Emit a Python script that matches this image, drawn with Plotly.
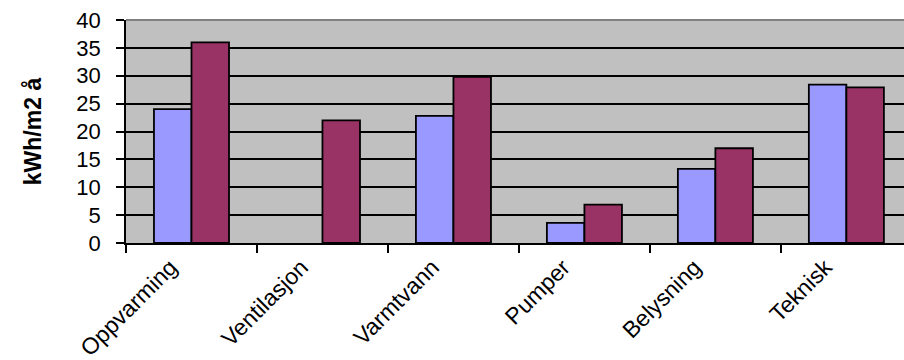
import plotly.graph_objects as go

categories = ["Oppvarming", "Ventilasjon", "Varmtvann", "Pumper", "Belysning", "Teknisk"]
series_a = [24.0, None, 22.8, 3.6, 13.3, 28.4]
series_b = [36.0, 22.0, 29.8, 6.9, 17.0, 27.9]
y_ticks = [0, 5, 10, 15, 20, 25, 30, 35, 40]

font_family = "Liberation Sans, Arial, sans-serif"

fig = go.Figure()
fig.add_trace(go.Bar(
    x=categories, y=series_a, name="A",
    marker=dict(color="#9999FF", line=dict(color="#000000", width=1.8)),
))
fig.add_trace(go.Bar(
    x=categories, y=series_b, name="B",
    marker=dict(color="#993366", line=dict(color="#000000", width=1.8)),
))

fig.update_layout(
    width=904, height=360,
    margin=dict(l=126, r=0, t=20, b=117),
    paper_bgcolor="#FFFFFF",
    plot_bgcolor="#C0C0C0",
    barmode="group",
    bargap=0.427,
    bargroupgap=0.0,
    showlegend=False,
    font=dict(family=font_family, size=22, color="#000000"),
)

fig.update_xaxes(
    type="category",
    range=[-0.5, 5.44],
    showgrid=False,
    showline=True, linecolor="#000000", linewidth=1.5,
    ticks="outside", ticklen=8, tickcolor="#000000", tickwidth=1.5,
    tickson="boundaries",
    tickangle=-45,
    ticklabelshift=-21,
    tickfont=dict(family=font_family, size=23, color="#000000"),
)

fig.update_yaxes(
    range=[0, 40],
    tickvals=y_ticks,
    ticktext=[str(v) for v in y_ticks],
    showgrid=True, gridcolor="#000000", gridwidth=1.5,
    zeroline=False,
    showline=True, linecolor="#000000", linewidth=1.5,
    ticks="outside", ticklen=8, tickcolor="#000000", tickwidth=1.5,
    ticklabelstandoff=11,
    tickfont=dict(family=font_family, size=22, color="#000000"),
    title=dict(text="<b>kWh/m2 å</b>", standoff=28,
               font=dict(family=font_family, size=23, color="#000000")),
)

# grey top border of the plot area
fig.add_shape(type="line", xref="paper", yref="paper",
              x0=0, x1=1, y0=1, y1=1,
              line=dict(color="#808080", width=2), layer="above")

fig.write_html("out.html")
